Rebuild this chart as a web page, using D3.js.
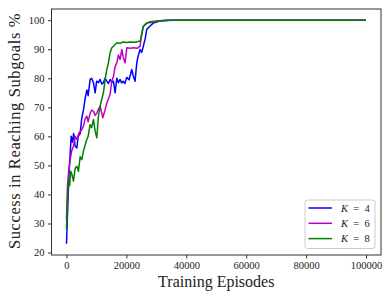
<!doctype html>
<html lang="en">
    <head>
        <meta charset="utf-8">
        <title>Success in Reaching Subgoals</title>
        <script type="text/javascript" src="https://cdn.jsdelivr.net/npm/d3@7"></script>
        <style>
            body { margin: 0; background: #fff; }
            text { font-family: "Liberation Serif", serif; }
        </style>
    </head>
    <body>
        <script type="text/javascript">

            var svgW = 391;
            var svgH = 297;
            var margin = {top: 9, right: 10, bottom: 42, left: 51.5};
            var w = svgW - margin.left - margin.right;
            var h = svgH - margin.top - margin.bottom;

            // values: [episode, success %]
            var blueK4 = [[0,23],[230,30],[570,40],[900,48],[1230,54],[1570,60],[2000,58],[2400,61],[2900,56.6],
                [3470,56],[3900,60],[4570,61],[5070,66],[5670,69],[6230,73],[6800,76],[7230,74],[7900,79.6],
                [8400,80],[9000,78.5],[9570,75],[10070,79],[10670,78.5],[11230,79.6],[11800,78],[12330,78.5],
                [12900,80],[13470,79],[14000,78.2],[14570,79.6],[15100,78.6],[15670,79],[16230,75],[16800,80],
                [17330,78.5],[17900,79.6],[18400,78.4],[18900,79],[19500,78.2],[20130,80.3],[20900,79.5],
                [21800,83],[22330,80.7],[22900,79],[23470,85.3],[23900,87.5],[24570,89.9],[25130,88.9],
                [26230,93.4],[26800,96.8],[27900,98],[29000,99],[31230,99.7],[34570,100],[100000,100]];

            var magentaK6 = [[0,31],[330,43],[730,48],[1230,52],[1730,55],[2330,56.6],[2900,60],[3470,58.9],
                [4230,61.3],[4900,62],[5670,63.5],[6230,66],[6800,67],[7230,65],[7900,68],[8470,69],[9000,68.7],
                [9600,67.2],[10130,68],[10700,69.4],[11230,70.4],[12130,66.4],[12900,69.2],[13470,71.5],
                [14570,74.5],[15130,79],[15670,80.5],[16230,84],[16800,85.3],[17330,88],[17900,86.5],
                [18470,89.9],[19000,87],[19570,85.3],[20130,90.5],[21230,90.3],[22330,90.5],[23570,90.3],
                [24570,91],[25130,95.6],[25670,97.9],[26800,99],[29000,99.3],[31230,99.8],[36000,100],
                [100000,100]];

            var greenK8 = [[0,28],[230,35],[670,45],[1070,43],[1400,48],[1800,47],[2330,44.6],[2900,49],
                [3470,49.7],[4000,48],[4570,53],[5130,52],[5670,55],[6230,57],[6800,59],[7230,60],[7900,64],
                [8400,63],[9000,65.8],[9570,61.8],[10130,59.5],[10670,67],[11230,70.4],[12330,75],[12900,79.6],
                [13470,83],[14000,85.3],[14570,88.8],[15130,90.5],[15670,91],[16800,92.2],[17900,92],
                [18900,92.5],[20130,92.3],[21230,92.5],[22900,92.4],[24570,92.8],[25130,95],[25670,97.9],
                [26800,99],[27900,99.5],[30130,99.7],[33000,100],[100000,100]];

            var seriesNames = ["K = 4", "K = 6", "K = 8"];
            var seriesData = [blueK4, magentaK6, greenK8];
            var seriesColors = ["#0000ff", "#bf00bf", "#008000"];

            var xTicks = [0, 20000, 40000, 60000, 80000, 100000];
            var yTicks = [20, 30, 40, 50, 60, 70, 80, 90, 100];

            var xScale = d3.scaleLinear()
                           .domain([-5000, 105000])
                           .range([0, w]);

            var yScale = d3.scaleLinear()
                           .domain([19.15, 103.85])
                           .range([h, 0]);

            var svg = d3.select("body")
                        .append("svg")
                        .attr("width", svgW)
                        .attr("height", svgH);

            var g = svg.append("g")
                       .attr("transform", "translate(" + margin.left + "," + margin.top + ")");

            var line = d3.line()
                         .x(d => xScale(d[0]))
                         .y(d => yScale(d[1]));

            g.append("defs").append("clipPath")
             .attr("id", "clip")
             .append("rect")
             .attr("width", w)
             .attr("height", h);

            g.append("g")
             .attr("clip-path", "url(#clip)")
             .selectAll("path")
             .data(seriesData)
             .enter()
             .append("path")
             .attr("d", line)
             .attr("fill", "none")
             .attr("stroke", (_, i) => seriesColors[i])
             .attr("stroke-width", 1.5)
             .attr("stroke-linejoin", "round");

            // frame
            g.append("rect")
             .attr("width", w)
             .attr("height", h)
             .attr("fill", "none")
             .attr("stroke", "#333")
             .attr("stroke-width", 1);

            var xAxis = g.append("g")
                         .attr("transform", "translate(0," + h + ")")
                         .call(d3.axisBottom(xScale).tickValues(xTicks).tickFormat(d3.format("d"))
                                 .tickSize(3.5).tickPadding(3.5));

            var yAxis = g.append("g")
                         .call(d3.axisLeft(yScale).tickValues(yTicks).tickFormat(d3.format("d"))
                                 .tickSize(3.5).tickPadding(3.5));

            [xAxis, yAxis].forEach(function(ax) {
                ax.select(".domain").remove();
                ax.selectAll(".tick line").attr("stroke", "#333");
                ax.selectAll(".tick text")
                  .attr("fill", "#222")
                  .attr("font-size", "10.5px")
                  .attr("font-family", "Liberation Serif, serif");
            });

            g.append("text")
             .attr("x", w / 2)
             .attr("y", h + 32)
             .attr("text-anchor", "middle")
             .attr("font-size", "16px")
             .attr("fill", "#222")
             .text("Training Episodes");

            g.append("text")
             .attr("transform", "translate(-32," + (h / 2 - 1) + ") rotate(-90)")
             .attr("text-anchor", "middle")
             .attr("font-size", "16.5px")
             .attr("letter-spacing", "0.6px")
             .attr("fill", "#222")
             .text("Success in Reaching Subgoals %");

            // legend
            var legend = g.append("g")
                          .attr("transform", "translate(" + (w - 76) + "," + (h - 55) + ")");

            legend.append("rect")
                  .attr("width", 70)
                  .attr("height", 48.5)
                  .attr("rx", 2.5)
                  .attr("fill", "#fff")
                  .attr("fill-opacity", 0.8)
                  .attr("stroke", "#ccc")
                  .attr("stroke-width", 1);

            var items = legend.selectAll(".item")
                              .data(seriesNames)
                              .enter()
                              .append("g")
                              .attr("class", "item")
                              .attr("transform", (_, i) => "translate(0," + (8 + i * 15.3) + ")");

            items.append("line")
                 .attr("x1", 3.5)
                 .attr("x2", 27)
                 .attr("stroke", (_, i) => seriesColors[i])
                 .attr("stroke-width", 1.5);

            var label = items.append("text")
                             .attr("x", 36)
                             .attr("y", 3.5)
                             .attr("font-size", "10.5px")
                             .attr("fill", "#222")
                             .attr("xml:space", "preserve");
            label.append("tspan")
                 .attr("font-style", "italic")
                 .text("K");
            label.append("tspan")
                 .text(d => "  =  " + d.slice(4));

        </script>
    </body>
</html>
